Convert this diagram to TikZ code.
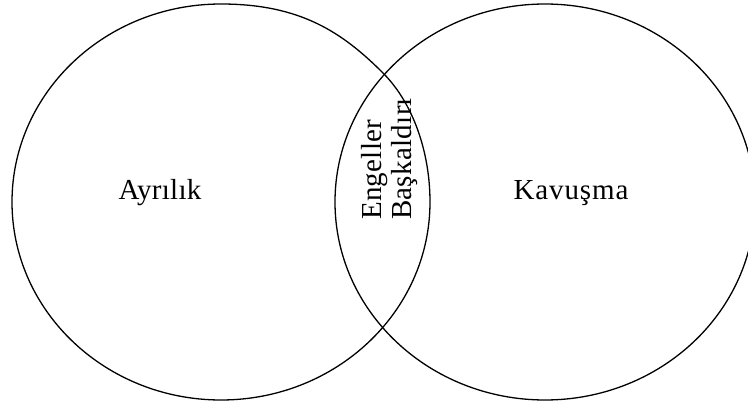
\documentclass[tikz,border=0pt]{standalone}
\usepackage{fontspec}
\setmainfont{Liberation Serif}
\newfontfamily\lsA[LetterSpace=1]{Liberation Serif}
\newfontfamily\lsB[LetterSpace=3]{Liberation Serif}
\begin{document}
\begin{tikzpicture}[x=1pt,y=-1pt,
  ring/.style={draw=black,line width=1.3pt},
  lbl/.style={inner sep=0pt,font=\fontsize{29}{34}\selectfont\lsA}]
\useasboundingbox (0,0) rectangle (748,404);
\begin{scope}
\clip (0,0) rectangle (748,404);
% left circle (hand-drawn bulge at upper right)
\draw[ring] (430,202) arc[start angle=0,end angle=270,x radius=209,y radius=198]
  .. controls (301,4) and (343,33) .. (383,73)
  .. controls (413,103) and (430,152) .. cycle;
% right circle
\draw[ring] (545,202) ellipse [x radius=210, y radius=198];
\end{scope}
\node[lbl,anchor=base] (ayr) at (160,200) {Ayrılık};
\node[lbl,anchor=base,font=\fontsize{29}{34}\selectfont\lsB] (kav) at (571,200) {Kavuşma};
\node[lbl,anchor=base west,rotate=90] (eng) at (381,220) {Engeller};
\node[lbl,anchor=base west,rotate=90] (bas) at (411,220) {Başkaldırı};
\end{tikzpicture}
\end{document}
